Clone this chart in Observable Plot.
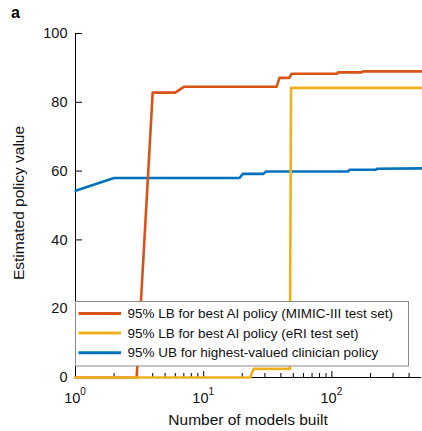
<!DOCTYPE html>
<html>
<head>
<meta charset="utf-8">
<script src="https://cdn.jsdelivr.net/npm/d3@7"></script>
<script src="https://cdn.jsdelivr.net/npm/@observablehq/plot@0.6"></script>
<style>
  html, body { margin: 0; padding: 0; background: #fff; }
  #fig { width: 422px; height: 431px; }
</style>
</head>
<body>
<div id="fig"></div>
<script>
// Lower/upper confidence bounds as a function of the number of models built
const modelsMimic = [1, 3, 4, 6, 7, 37, 39, 46.5, 48.5, 109, 112, 170, 175, 500];
const valueMimic  = [0, 0, 82.8, 82.8, 84.5, 84.5, 87.1, 87.1, 88.3, 88.3, 88.7, 88.7, 89.0, 89.0];

const modelsERI = [1, 23, 24.5, 47, 48, 500];
const valueERI  = [0, 0, 2.5, 2.5, 84.2, 84.2];

const modelsClin = [1, 2, 19, 20.2, 29.2, 30.6, 134, 138, 220, 225, 500];
const valueClin  = [54.3, 58.0, 58.0, 59.2, 59.2, 59.9, 59.9, 60.4, 60.4, 60.7, 60.8];

const seriesNames = [
  "95% LB for best AI policy (MIMIC-III test set)",
  "95% LB for best AI policy (eRI test set)",
  "95% UB for highest-valued clinician policy"
];
const seriesColors = ["#D95319", "#EDB120", "#0072BD"];

const yTicks = [0, 20, 40, 60, 80, 100];
const xMajorTicks = [1, 10, 100];
const xMajorLabels = ["0", "1", "2"];
const xMinorTicks = [2, 3, 4, 5, 6, 7, 8, 9, 20, 30, 40, 50, 60, 70, 80, 90, 200, 300, 400];

const xTitle = "Number of models built";
const yTitle = "Estimated policy value";
const panelLetter = "a";

const toRows = (xs, ys, name) => xs.map((x, i) => ({models: x, value: ys[i], series: name}));
const rowsMimic = toRows(modelsMimic, valueMimic, seriesNames[0]);
const rowsERI = toRows(modelsERI, valueERI, seriesNames[1]);
const rowsClin = toRows(modelsClin, valueClin, seriesNames[2]);

const font = "'Liberation Sans', Arial, Helvetica, sans-serif";

const chart = Plot.plot({
  width: 422,
  height: 431,
  marginLeft: 75,
  marginRight: 1,
  marginTop: 33,
  marginBottom: 54,
  x: {type: "log", domain: [1, 500]},
  y: {domain: [0, 100]},
  style: {fontFamily: font, fontSize: "14.5px", color: "#111", background: "#fff"},
  marks: [
    Plot.ruleX([1], {stroke: "#000", strokeWidth: 1}),
    Plot.ruleY([0], {stroke: "#000", strokeWidth: 1}),
    Plot.axisY({ticks: yTicks, tickSize: -7, tickPadding: 15, label: null, stroke: "#000", fontSize: 14.5}),
    Plot.axisX({ticks: xMajorTicks, tickSize: -6, tickFormat: () => "", label: null, stroke: "#000"}),
    Plot.axisX({ticks: xMinorTicks, tickSize: -4, tickFormat: () => "", label: null, stroke: "#000"}),
    Plot.line(rowsClin, {x: "models", y: "value", stroke: seriesColors[2], strokeWidth: 2.6}),
    Plot.line(rowsMimic, {x: "models", y: "value", stroke: seriesColors[0], strokeWidth: 2.6}),
    Plot.line(rowsERI, {x: "models", y: "value", stroke: seriesColors[1], strokeWidth: 2.6})
  ]
});

document.getElementById("fig").appendChild(chart);

const svg = d3.select(chart);
const xs = chart.scale("x");

// Powers-of-ten tick labels with a raised exponent
const xl = svg.append("g").attr("font-family", font).attr("fill", "#111");
xMajorTicks.forEach((t, i) => {
  const txt = xl.append("text")
    .attr("x", xs.apply(t))
    .attr("y", 402.5)
    .attr("text-anchor", "middle")
    .attr("font-size", 14.5);
  txt.append("tspan").text("10");
  txt.append("tspan").attr("font-size", 10).attr("dy", -8).text(xMajorLabels[i]);
});

// Axis titles
svg.append("text")
  .attr("x", (75 + 421) / 2)
  .attr("y", 425)
  .attr("text-anchor", "middle")
  .attr("font-family", font)
  .attr("font-size", 15.5)
  .attr("fill", "#111")
  .text(xTitle);

svg.append("text")
  .attr("transform", "translate(24,203) rotate(-90)")
  .attr("text-anchor", "middle")
  .attr("font-family", font)
  .attr("font-size", 15.5)
  .attr("fill", "#111")
  .text(yTitle);

// Panel letter
svg.append("text")
  .attr("x", 11)
  .attr("y", 18)
  .attr("text-anchor", "start")
  .attr("font-family", font)
  .attr("font-weight", "bold")
  .attr("font-size", 16)
  .attr("fill", "#000")
  .text(panelLetter);

// Legend box drawn over the lines
const lg = svg.append("g").attr("text-anchor", "start");
lg.append("rect")
  .attr("x", 75.5).attr("y", 301.5)
  .attr("width", 333).attr("height", 64.5)
  .attr("fill", "#fff")
  .attr("stroke", "#8a8a8a")
  .attr("stroke-width", 1);
const rowY = [313.5, 333, 352.8];
seriesNames.forEach((name, i) => {
  lg.append("line")
    .attr("x1", 78.5).attr("x2", 121)
    .attr("y1", rowY[i]).attr("y2", rowY[i])
    .attr("stroke", seriesColors[i])
    .attr("stroke-width", 3);
  lg.append("text")
    .attr("x", 127.5)
    .attr("y", rowY[i] + 4.6)
    .attr("text-anchor", "start")
    .attr("font-family", font)
    .attr("font-size", 13.5)
    .attr("fill", "#111")
    .text(name);
});
</script>
</body>
</html>
